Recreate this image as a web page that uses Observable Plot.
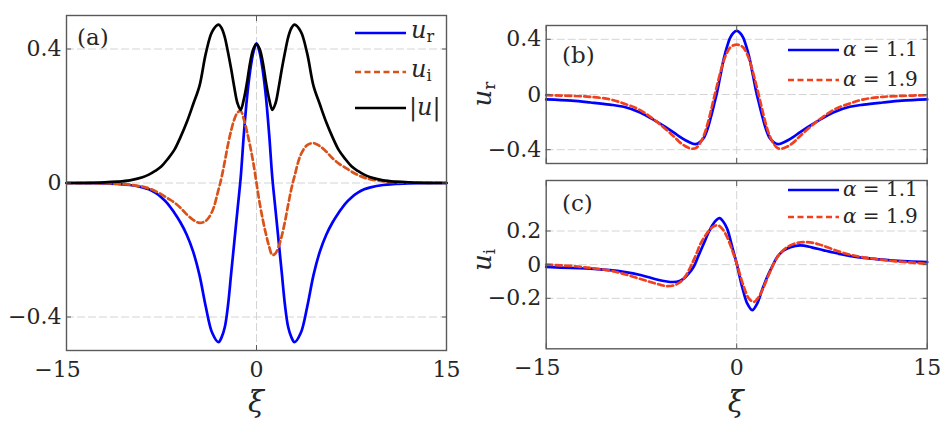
<!DOCTYPE html>
<html><head><meta charset="utf-8">
<script src="https://cdn.jsdelivr.net/npm/d3@7"></script>
<script src="https://cdn.jsdelivr.net/npm/@observablehq/plot@0.6"></script>
<style>
body{margin:0;background:#fff;}
#fig{position:relative;width:945px;height:428px;background:#fff;overflow:hidden;}
#fig svg{position:absolute;overflow:visible;}
</style></head><body><div id="fig"></div>
<script>
// ---------- data ----------
const xTicksNeg = [-15];
const xTickLabelsNeg = ["\u221215"];
const xTicks = [-15, 0, 15];
const xTicksPos = [0, 15];
const xTickLabelsPos = ["0", "15"];
const yTicksA = [-0.4, 0, 0.4];
const yTickLabelsA = ["\u22120.4", "0", "0.4"];
const yTicksB = [-0.4, 0, 0.4];
const yTickLabelsB = ["\u22120.4", "0", "0.4"];
const yTicksC = [-0.2, 0, 0.2];
const yTickLabelsC = ["\u22120.2", "0", "0.2"];

// panel (a)
const xiA = [-15,-12,-11,-10,-9,-8.5,-8,-7.5,-7,-6.5,-6,-5.5,-5,-4.5,-4,-3.5,-3,-2.75,-2.5,-2.25,-2,-1.75,-1.5,-1.25,-1,-0.75,-0.5,-0.25,0,
  0.25,0.5,0.75,1,1.25,1.5,1.75,2,2.25,2.5,2.75,3,3.5,4,4.5,5,5.5,6,6.5,7,7.5,8,8.5,9,10,11,12,15];
const urA = [0,-0.001,-0.003,-0.006,-0.013,-0.019,-0.029,-0.043,-0.062,-0.088,-0.118,-0.155,-0.205,-0.275,-0.37,-0.447,-0.475,-0.46,-0.43,-0.365,-0.27,-0.175,-0.08,0.015,0.145,0.255,0.335,0.39,0.417,
  0.39,0.335,0.255,0.145,0.015,-0.08,-0.175,-0.27,-0.365,-0.43,-0.46,-0.475,-0.447,-0.37,-0.275,-0.205,-0.155,-0.118,-0.088,-0.062,-0.043,-0.029,-0.019,-0.013,-0.006,-0.003,-0.001,0];
const uiA = [0,-0.001,-0.002,-0.005,-0.011,-0.016,-0.024,-0.034,-0.046,-0.058,-0.074,-0.094,-0.11,-0.119,-0.113,-0.085,-0.02,0.018,0.065,0.115,0.157,0.19,0.21,0.215,0.19,0.153,0.11,0.06,0,
  -0.06,-0.11,-0.153,-0.19,-0.215,-0.21,-0.19,-0.157,-0.115,-0.065,-0.018,0.02,0.085,0.113,0.119,0.11,0.094,0.074,0.058,0.046,0.034,0.024,0.016,0.011,0.005,0.002,0.001,0];
const absA = [0,0.002,0.004,0.008,0.017,0.025,0.036,0.05,0.072,0.098,0.137,0.182,0.235,0.29,0.387,0.452,0.473,0.462,0.435,0.39,0.34,0.285,0.238,0.218,0.25,0.30,0.36,0.40,0.415,
  0.40,0.36,0.30,0.25,0.218,0.238,0.285,0.34,0.39,0.435,0.462,0.473,0.452,0.387,0.29,0.235,0.182,0.137,0.098,0.072,0.05,0.036,0.025,0.017,0.008,0.004,0.002,0];

// panel (b): u_r for alpha = 1.1 and 1.9
const xiB = [-15,-13,-11.5,-10,-8.9,-7.6,-6.3,-5,-4.5,-4,-3.5,-3.2,-2.9,-2.6,-2.3,-2.05,-1.8,-1.55,-1.3,-1,-0.75,-0.5,-0.25,0,
  0.25,0.5,0.75,1,1.3,1.55,1.8,2.05,2.3,2.6,2.9,3.2,3.5,4,4.5,5,6.3,7.6,8.9,10,11.5,13,15];
const urB11 = [-0.036,-0.045,-0.058,-0.073,-0.089,-0.13,-0.197,-0.272,-0.305,-0.333,-0.355,-0.359,-0.345,-0.316,-0.25,-0.17,-0.08,0.015,0.13,0.265,0.35,0.414,0.448,0.462,
  0.448,0.414,0.35,0.265,0.13,0.015,-0.08,-0.17,-0.25,-0.316,-0.345,-0.359,-0.355,-0.333,-0.305,-0.272,-0.197,-0.13,-0.089,-0.073,-0.058,-0.045,-0.036];
const urB19 = [-0.005,-0.01,-0.017,-0.035,-0.065,-0.113,-0.197,-0.30,-0.345,-0.377,-0.393,-0.387,-0.355,-0.30,-0.215,-0.125,-0.029,0.065,0.155,0.25,0.306,0.342,0.357,0.361,
  0.357,0.342,0.306,0.25,0.155,0.065,-0.029,-0.125,-0.215,-0.30,-0.355,-0.387,-0.393,-0.377,-0.345,-0.30,-0.197,-0.113,-0.065,-0.035,-0.017,-0.01,-0.005];

// panel (c): u_i for alpha = 1.1 and 1.9
const xiC11 = [-15,-13,-11.5,-10,-8.9,-7.5,-6.3,-5.5,-5,-4.5,-4.17,-3.8,-3.4,-3,-2.6,-2.25,-1.93,-1.6,-1.35,-1.05,-0.75,-0.35,0,
  0.43,0.83,1.22,1.61,2.0,2.4,2.8,3.19,3.7,4.24,5.0,5.9,6.86,8.2,9.5,11,12.1,13.5,15];
const uiC11 = [-0.014,-0.02,-0.024,-0.033,-0.043,-0.063,-0.088,-0.1,-0.103,-0.097,-0.083,-0.055,-0.014,0.055,0.124,0.185,0.233,0.265,0.276,0.255,0.213,0.104,0.006,
  -0.132,-0.231,-0.27,-0.231,-0.15,-0.073,-0.01,0.045,0.085,0.104,0.114,0.103,0.085,0.062,0.045,0.033,0.025,0.019,0.015];
const xiC19 = [-15,-13,-11.5,-10,-8.9,-7.8,-6.8,-6,-5.47,-5,-4.43,-4,-3.64,-3.2,-2.85,-2.45,-2.06,-1.75,-1.46,-1.1,-0.75,-0.35,0,
  0.56,0.95,1.35,1.75,2.13,2.5,2.92,3.4,3.97,4.7,5.55,6.5,8.17,9.5,10.8,12.5,15];
const uiC19 = [0,-0.008,-0.02,-0.035,-0.055,-0.08,-0.103,-0.12,-0.128,-0.124,-0.103,-0.065,-0.014,0.06,0.124,0.175,0.213,0.23,0.233,0.21,0.163,0.085,0.006,
  -0.132,-0.2,-0.221,-0.19,-0.132,-0.065,0.006,0.065,0.104,0.128,0.134,0.12,0.075,0.05,0.035,0.02,0.005];

// ---------- styling ----------
const FONT = "'DejaVu Serif', 'Liberation Serif', serif";
const BLUE = "#0000ff", ORANGE_A = "#d95319", ORANGE_B = "#f2401c", BLACK = "#000";
const GRID = "#d4d4d4", FRAME = "#5a5a5a", TXT = "#262626";
const TICKFS = 22;
const LW = 2.7;

const tbl = (xs, ...cols) => xs.map((x, i) => ({x, ...Object.fromEntries(cols.map(([k, v]) => [k, v[i]]))}));
const dataA = tbl(xiA, ["ur", urA], ["ui", uiA], ["ab", absA]);
const dataB11 = tbl(xiB, ["v", urB11]);
const dataB19 = tbl(xiB, ["v", urB19]);
const dataC11 = tbl(xiC11, ["v", uiC11]);
const dataC19 = tbl(xiC19, ["v", uiC19]);

function frameMarks(yTicks, yLabels, showX) {
  const yMap = new Map(yTicks.map((t, i) => [t, yLabels[i]]));
  const negMap = new Map(xTicksNeg.map((t, i) => [t, xTickLabelsNeg[i]]));
  const posMap = new Map(xTicksPos.map((t, i) => [t, xTickLabelsPos[i]]));
  const m = [
    Plot.frame({stroke: FRAME, strokeWidth: 1.4}),
    Plot.axisY(yTicks, {anchor: "left", tickSize: -5, tickFormat: () => "", stroke: FRAME, label: null}),
    Plot.axisY(yTicks, {anchor: "right", tickSize: -5, tickFormat: () => "", stroke: FRAME, label: null}),
    Plot.axisX(xTicks, {anchor: "bottom", tickSize: -5, tickFormat: () => "", stroke: FRAME, label: null}),
    Plot.axisX(xTicks, {anchor: "top", tickSize: -5, tickFormat: () => "", stroke: FRAME, label: null}),
    Plot.axisY(yTicks, {anchor: "left", tickSize: 0, tickPadding: 5, fontSize: TICKFS, fill: TXT, tickFormat: d => yMap.get(d), label: null})
  ];
  if (showX) {
    m.push(Plot.axisX(xTicksPos, {anchor: "bottom", tickSize: 0, tickPadding: 11, fontSize: TICKFS, fill: TXT, tickFormat: d => posMap.get(d), label: null}));
    m.push(Plot.axisX(xTicksNeg, {anchor: "bottom", tickSize: 0, tickPadding: 11, dx: -9, fontSize: TICKFS, fill: TXT, tickFormat: d => negMap.get(d), label: null}));
  }
  return m;
}
function gridMarks(yTicks) {
  return [
    Plot.gridY(yTicks, {stroke: GRID, strokeOpacity: 1, strokeWidth: 1, strokeDasharray: "8,3"}),
    Plot.gridX([0], {stroke: GRID, strokeOpacity: 1, strokeWidth: 1, strokeDasharray: "8,3"})
  ];
}

const fig = document.getElementById("fig");
const common = {x: {domain: [-15, 15], label: null}, y: {domain: [-0.5, 0.5], label: null},
  style: {fontFamily: FONT, background: "transparent", overflow: "visible"}};

// ---- panel (a)
const A = Plot.plot({...common, width: 470, height: 428, marginLeft: 66, marginRight: 24, marginTop: 15, marginBottom: 78,
  marks: [
    ...gridMarks(yTicksA),
    Plot.line(dataA, {x: "x", y: "ur", stroke: BLUE, strokeWidth: LW, curve: "catmull-rom"}),
    Plot.line(dataA, {x: "x", y: "ui", stroke: ORANGE_A, strokeWidth: LW, strokeDasharray: "6,3.5", curve: "catmull-rom"}),
    Plot.line(dataA, {x: "x", y: "ab", stroke: BLACK, strokeWidth: LW, curve: "catmull-rom"}),
    ...frameMarks(yTicksA, yTickLabelsA, true)
  ]});
A.style.left = "0px"; A.style.top = "0px";
fig.appendChild(A);

// ---- panel (b)
const B = Plot.plot({...common, width: 475, height: 170, marginLeft: 75.7, marginRight: 18.3, marginTop: 25, marginBottom: 7,
  marks: [
    ...gridMarks(yTicksB),
    Plot.line(dataB11, {x: "x", y: "v", stroke: BLUE, strokeWidth: LW, curve: "catmull-rom"}),
    Plot.line(dataB19, {x: "x", y: "v", stroke: ORANGE_B, strokeWidth: LW, strokeDasharray: "6,3.5", curve: "catmull-rom"}),
    ...frameMarks(yTicksB, yTickLabelsB, false)
  ]});
B.style.left = "470px"; B.style.top = "0px";
fig.appendChild(B);

// ---- panel (c)
const C = Plot.plot({...common, width: 475, height: 258, marginLeft: 75.7, marginRight: 18.3, marginTop: 10, marginBottom: 79.7,
  marks: [
    ...gridMarks(yTicksC),
    Plot.line(dataC11, {x: "x", y: "v", stroke: BLUE, strokeWidth: LW, curve: "catmull-rom"}),
    Plot.line(dataC19, {x: "x", y: "v", stroke: ORANGE_B, strokeWidth: LW, strokeDasharray: "6,3.5", curve: "catmull-rom"}),
    ...frameMarks(yTicksC, yTickLabelsC, true)
  ]});
C.style.left = "470px"; C.style.top = "170px";
fig.appendChild(C);

// ---------- annotations (legends, labels) ----------
function addText(svg, x, y, parts, opts = {}) {
  const t = d3.select(svg).append("text").attr("x", x).attr("y", y)
    .attr("font-family", FONT).attr("font-size", opts.size || 22).attr("fill", opts.fill || TXT)
    .attr("text-anchor", opts.anchor || "start");
  if (opts.rotate) t.attr("transform", `rotate(-90 ${x} ${y})`);
  for (const p of parts) {
    const s = t.append("tspan").text(p.t);
    if (p.it) s.attr("font-style", "italic");
    if (p.size) s.attr("font-size", p.size);
    if (p.dy) s.attr("dy", p.dy);
  }
  return t;
}
function addLine(svg, x1, x2, y, color, dash) {
  const l = d3.select(svg).append("line").attr("x1", x1).attr("x2", x2).attr("y1", y).attr("y2", y)
    .attr("stroke", color).attr("stroke-width", LW);
  if (dash) l.attr("stroke-dasharray", dash);
}
// panel a
addText(A, 77, 45, [{t: "(a)"}], {size: 23});
addLine(A, 355, 406, 33, BLUE);
addText(A, 411, 38, [{t: "u", it: true, size: 24}, {t: "r", size: 16, dy: 4}]);
addLine(A, 355, 406, 72, ORANGE_A, "6,3.5");
addText(A, 411, 77, [{t: "u", it: true, size: 24}, {t: "i", size: 16, dy: 4}]);
addLine(A, 355, 406, 108, BLACK);
addText(A, 409, 115, [{t: "|", size: 24}, {t: "u", it: true, size: 24}, {t: "|", size: 24}]);
addText(A, 256, 412, [{t: "\u03be", it: true}], {size: 29, anchor: "middle"});

// panel b
addText(B, 92, 63, [{t: "(b)"}], {size: 23});
addLine(B, 318, 369, 50, BLUE);
addText(B, 373, 56, [{t: "\u03b1", it: true}, {t: " = 1.1"}], {size: 20});
addLine(B, 318, 369, 80, ORANGE_B, "6,3.5");
addText(B, 373, 86, [{t: "\u03b1", it: true}, {t: " = 1.9"}], {size: 20});
addText(B, 21, 94, [{t: "u", it: true, size: 26}, {t: "r", size: 17, dy: 4}], {rotate: true, anchor: "middle"});

// panel c
addText(C, 92, 41, [{t: "(c)"}], {size: 23});
addLine(C, 318, 369, 20, BLUE);
addText(C, 373, 26, [{t: "\u03b1", it: true}, {t: " = 1.1"}], {size: 20});
addLine(C, 318, 369, 47, ORANGE_B, "6,3.5");
addText(C, 373, 53, [{t: "\u03b1", it: true}, {t: " = 1.9"}], {size: 20});
addText(C, 21, 90, [{t: "u", it: true, size: 26}, {t: "i", size: 17, dy: 4}], {rotate: true, anchor: "middle"});
addText(C, 265.7, 242, [{t: "\u03be", it: true}], {size: 29, anchor: "middle"});
</script></body></html>
